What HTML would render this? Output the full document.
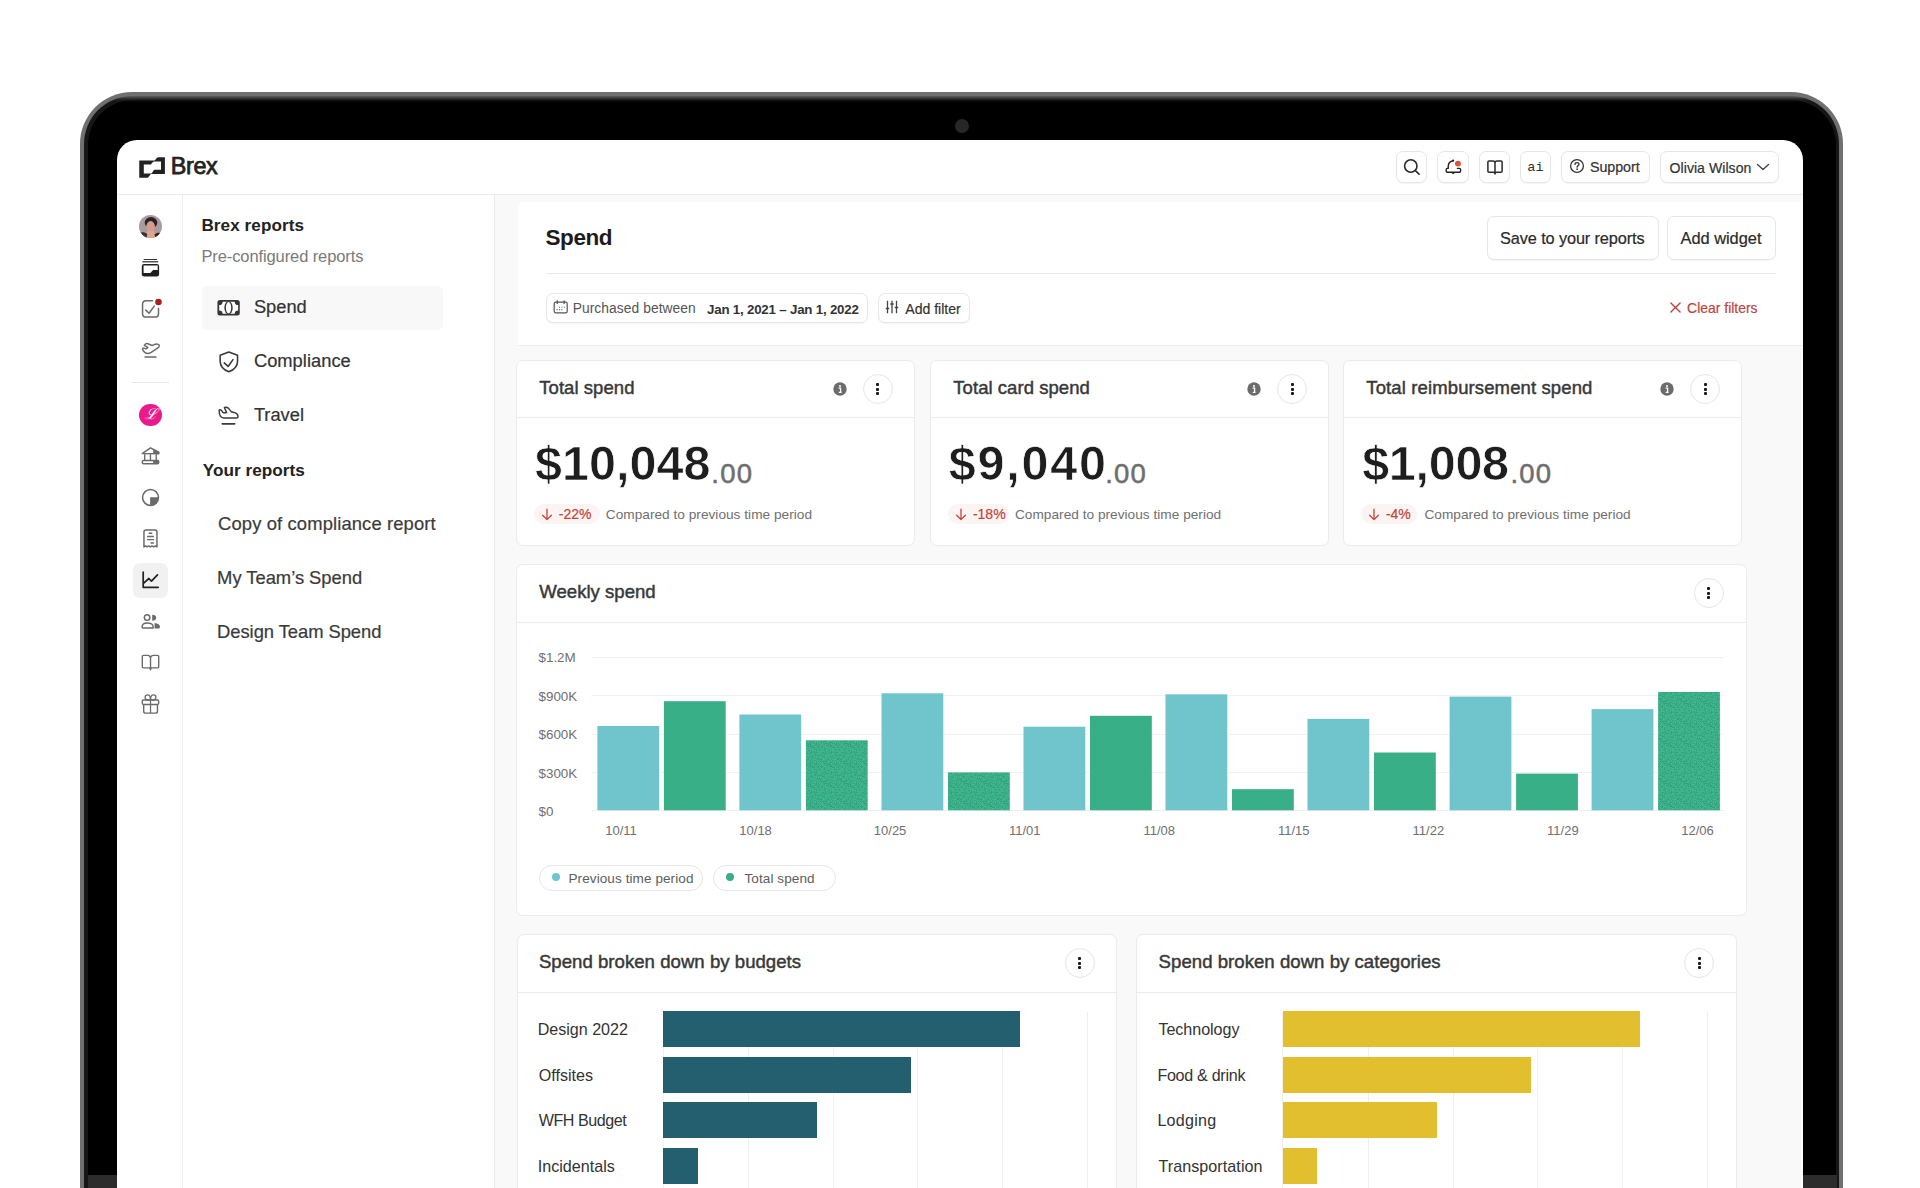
<!DOCTYPE html>
<html><head><meta charset="utf-8"><title>Brex – Spend report</title>
<style>
html,body{margin:0;padding:0;}
body{width:1920px;height:1188px;overflow:hidden;background:#fff;position:relative;font-family:"Liberation Sans",Arial,sans-serif;color:#333;}
.a{position:absolute;box-sizing:border-box;}
.t{position:absolute;line-height:1;white-space:nowrap;}
.m{-webkit-text-stroke:0.45px currentColor;letter-spacing:0.12px;}
.s{-webkit-text-stroke:0.2px currentColor;}
.btn{position:absolute;box-sizing:border-box;background:#fff;border:1px solid #e6e6e6;border-radius:7px;box-shadow:0 1px 1px rgba(0,0,0,0.04);}
.card{position:absolute;box-sizing:border-box;background:#fff;border:1px solid #ebebeb;border-radius:7px;}
.kb{position:absolute;box-sizing:border-box;width:30px;height:30px;border:1px solid #e6e6e6;border-radius:50%;background:#fff;}
.kb i{position:absolute;left:12.6px;width:3px;height:3px;border-radius:1px;background:#1a1a1a;}
svg{position:absolute;overflow:visible;}
</style></head><body>
<div class="a" style="left:80.0px;top:92.0px;width:1763.0px;height:1150.0px;background:#707070;border-radius:52px 52px 0 0;"></div>
<div class="a" style="left:84.0px;top:96.0px;width:1755.0px;height:1150.0px;background:linear-gradient(to bottom,#5e5e5e 0px,#2a2a2a 3px,#161616 5px,#161616 100%);border-radius:48px 48px 0 0;"></div>
<div class="a" style="left:87.5px;top:99.5px;width:1748.0px;height:1150.0px;background:linear-gradient(to bottom,#121212 0px,#000 2.5px,#000 100%);border-radius:45px 45px 0 0;"></div>
<div class="a" style="left:88.0px;top:1175.0px;width:1749.0px;height:20.0px;background:#2c2c2c;"></div>
<div class="a" style="left:954.5px;top:118.5px;width:14.0px;height:14.0px;background:#272727;border-radius:50%;"></div>
<div class="a" style="left:117.0px;top:139.5px;width:1685.5px;height:1100.0px;background:#fff;border-radius:20px 20px 0 0;"></div>
<div class="a" style="left:117.0px;top:194.0px;width:1685.5px;height:1.0px;background:#ebebeb;"></div>
<div class="a" style="left:182.0px;top:195.0px;width:1.0px;height:1000.0px;background:#ededed;"></div>
<div class="a" style="left:494.0px;top:195.0px;width:1.0px;height:1000.0px;background:#ebebeb;"></div>
<div class="a" style="left:495.0px;top:195.0px;width:1306.0px;height:1000.0px;background:#f9f9f9;"></div>
<svg style="left:139px;top:156.5px" width="26" height="21" viewBox="0 0 26 21"><path fill="#222" fill-rule="evenodd" d="M0.25,3.6 H15.2 C16.7,3.6 17.2,0.3 19.4,0.3 H25.9 V16.9 H12.3 C10.8,16.9 10.3,20.7 7.7,20.7 H0.25 Z M4.8,7.6 H11.4 C12.9,7.6 13.2,4.5 15.2,4.5 H22 V12.7 H15.6 C14.1,12.7 13.6,16.5 11.9,16.5 H4.8 Z"/></svg>
<div class="t " style="left:170.70px;top:154.8px;font-size:23.4px;color:#222;letter-spacing:-0.35px;-webkit-text-stroke:0.75px #222;">Brex</div>
<div class="btn" style="left:1396px;top:151px;width:31px;height:32px;"></div>
<div class="btn" style="left:1437px;top:151px;width:31.5px;height:32px;"></div>
<div class="btn" style="left:1478.5px;top:151px;width:31.5px;height:32px;"></div>
<div class="btn" style="left:1519.5px;top:151px;width:31.5px;height:32px;"></div>
<div class="btn" style="left:1561px;top:151px;width:89px;height:32px;"></div>
<div class="btn" style="left:1659.5px;top:151px;width:119px;height:32px;"></div>
<svg style="left:1402px;top:157px" width="20" height="20" viewBox="0 0 20 20"><circle cx="8.8" cy="9" r="6.2" fill="none" stroke="#2a2a2a" stroke-width="1.6"/><path d="M13.3 13.5 L17 17.2" stroke="#2a2a2a" stroke-width="1.7" stroke-linecap="round"/></svg>
<svg style="left:1438px;top:152px" width="30" height="30" viewBox="0 0 1188 1188"><path d="M600 345 C470 370 410 450 405 560 V650 H370 C340 650 325 670 325 700 V755 C325 785 345 800 375 800 H845 C875 800 895 785 895 755 V700 C895 670 880 650 850 650 H770" fill="none" stroke="#222" stroke-width="56" stroke-linejoin="round" stroke-linecap="round"/><circle cx="600" cy="340" r="42" fill="#222"/><path d="M535 815 A65 55 0 0 0 665 815 Z" fill="#222"/><circle cx="790" cy="460" r="118" fill="#d9573a"/></svg>
<svg style="left:1485px;top:157px" width="20" height="20" viewBox="0 0 20 20"><path d="M10 6 V17.2 M10 6 C10 4.6 9.3 3.9 8 3.9 H4 C3.2 3.9 2.9 4.3 2.9 5 V14.3 C2.9 15 3.3 15.3 4 15.3 H8.3 C9.3 15.3 10 15.8 10 17 C10 15.8 10.7 15.3 11.7 15.3 H16 C16.7 15.3 17.1 15 17.1 14.3 V5 C17.1 4.3 16.8 3.9 16 3.9 H12 C10.7 3.9 10 4.6 10 6" fill="none" stroke="#2a2a2a" stroke-width="1.5" stroke-linejoin="round"/></svg>
<div class="t " style="left:1527.30px;top:160.7px;font-size:13.6px;color:#333;font-family:'Liberation Mono',monospace;">ai</div>
<svg style="left:1569px;top:158.4px" width="16" height="16" viewBox="0 0 16 16"><circle cx="8" cy="8" r="6.4" fill="none" stroke="#333" stroke-width="1.3"/><path d="M6 6.4 C6 5.2 6.9 4.6 8 4.6 C9.1 4.6 10 5.3 10 6.3 C10 7.6 8.1 7.7 8.1 9.2" fill="none" stroke="#333" stroke-width="1.3" stroke-linecap="round"/><circle cx="8.1" cy="11.2" r="0.85" fill="#333"/></svg>
<div class="t s" style="left:1590.00px;top:160.3px;font-size:14.3px;color:#333;letter-spacing:-0.067px;">Support</div>
<div class="t s" style="left:1669.60px;top:160.5px;font-size:14.1px;color:#333;letter-spacing:0.024px;">Olivia Wilson</div>
<svg style="left:1756px;top:162px" width="14" height="10" viewBox="0 0 14 10"><path d="M1.5 2.5 L7 7.5 L12.5 2.5" fill="none" stroke="#444" stroke-width="1.4" stroke-linecap="round" stroke-linejoin="round"/></svg>
<svg style="left:139px;top:215px" width="23" height="23" viewBox="0 0 23 23"><defs><clipPath id="av"><circle cx="11.5" cy="11.5" r="11.5"/></clipPath></defs><g clip-path="url(#av)"><rect width="23" height="23" fill="#a99ba1"/><ellipse cx="12" cy="7.6" rx="6.3" ry="5.6" fill="#2a2326"/><ellipse cx="11.6" cy="11.6" rx="4.3" ry="5.6" fill="#d49c8c"/><path d="M8.5 16 H15 L18 23 H5.5 Z" fill="#dea58e"/><path d="M0 18 C3 16.5 6 17 8.2 19 L7.5 23 H0 Z" fill="#3a3032"/><path d="M23 18.5 C20 17 17.5 17.5 15.5 19.5 L16.5 23 H23 Z" fill="#2c2528"/></g></svg>
<svg style="left:136px;top:252px" width="30" height="30" viewBox="0 0 1188 1188"><path d="M320 295 H820" stroke="#333" stroke-width="40" stroke-linecap="round"/><path d="M270 390 H860" stroke="#555" stroke-width="60" stroke-linecap="round"/><rect x="230" y="480" width="685" height="495" rx="90" fill="#1e1e1e"/><path d="M300 530 H860 V715 H690 C640 715 620 820 560 830 H300 Z" fill="#fff"/></svg>
<svg style="left:136px;top:294px" width="30" height="30" viewBox="0 0 1188 1188"><path d="M655 270 H400 C310 270 260 320 260 410 V780 C260 870 310 915 400 915 H760 C850 915 890 870 890 780 V565" fill="none" stroke="#6a6a6a" stroke-width="60" stroke-linecap="round"/><path d="M385 640 L520 760 L720 480" fill="none" stroke="#6a6a6a" stroke-width="60" stroke-linecap="round" stroke-linejoin="round"/><circle cx="890" cy="320" r="130" fill="#a81e1f"/></svg>
<svg style="left:136px;top:336px" width="30" height="30" viewBox="0 0 1188 1188"><path d="M260 530 C300 620 380 690 470 690 C520 690 560 670 600 645 L880 460 C940 420 930 360 880 335 C830 310 770 315 720 340 L640 375 L470 305 C420 290 370 310 330 370 L470 450 L400 510 L310 480 C270 475 245 500 260 530 Z" fill="none" stroke="#6a6a6a" stroke-width="58" stroke-linejoin="round"/><path d="M360 828 H790" stroke="#6a6a6a" stroke-width="60" stroke-linecap="round"/></svg>
<div class="a" style="left:132.0px;top:382.0px;width:36.5px;height:1.0px;background:#e6e6e6;"></div>
<div class="a" style="left:138.8px;top:403.7px;width:22.8px;height:22.8px;border-radius:50%;background:#ea1a8c;"></div>
<div class="t" style="left:144.5px;top:406.5px;font-size:15px;color:#fff;font-family:'Liberation Serif',serif;font-style:italic;">&#x2112;</div>
<svg style="left:136px;top:441px" width="30" height="30" viewBox="0 0 1188 1188"><path d="M245 500 L575 275 L905 440 V505 Z" fill="none" stroke="#6a6a6a" stroke-width="58" stroke-linejoin="round"/><path d="M680 330 L905 440 V505 H680 Z" fill="#6a6a6a"/><path d="M345 520 V760 M572 520 V760 M800 520 V760" stroke="#6a6a6a" stroke-width="55"/><rect x="250" y="775" width="650" height="125" rx="50" fill="none" stroke="#6a6a6a" stroke-width="58"/><rect x="680" y="775" width="220" height="125" fill="#6a6a6a"/></svg>
<svg style="left:136px;top:483px" width="30" height="30" viewBox="0 0 1188 1188"><circle cx="575" cy="575" r="315" fill="none" stroke="#6a6a6a" stroke-width="60"/><path d="M560 560 H890 A330 330 0 0 1 560 890 Z" fill="#6a6a6a"/></svg>
<svg style="left:136px;top:524px" width="30" height="30" viewBox="0 0 1188 1188"><path d="M315 910 V320 C315 270 345 240 395 240 H750 C800 240 830 270 830 320 V910 L765 870 L700 910 L635 870 L570 910 L505 870 L440 910 L375 870 Z" fill="none" stroke="#6a6a6a" stroke-width="58" stroke-linejoin="round"/><path d="M520 365 H625 M460 495 H690 M460 620 H690 M595 750 H690" stroke="#6a6a6a" stroke-width="55" stroke-linecap="round"/></svg>
<div class="a" style="left:133.4px;top:562.7px;width:35.0px;height:35.0px;background:#f1f1f1;border-radius:7px;"></div>
<svg style="left:136px;top:565px" width="30" height="30" viewBox="0 0 1188 1188"><path d="M285 285 V885 H880" fill="none" stroke="#222" stroke-width="68" stroke-linecap="round" stroke-linejoin="round"/><path d="M305 720 L510 535 L612 635 L850 390" fill="none" stroke="#222" stroke-width="68" stroke-linecap="round" stroke-linejoin="round"/></svg>
<svg style="left:136px;top:607px" width="30" height="30" viewBox="0 0 1188 1188"><circle cx="440" cy="420" r="110" fill="none" stroke="#6a6a6a" stroke-width="58"/><path d="M640 310 C740 310 800 360 800 430 C800 500 740 545 640 545 Z" fill="#6a6a6a"/><path d="M240 790 C240 690 330 630 450 630 C570 630 680 690 680 790 V830 H280 C255 830 240 815 240 790 Z" fill="none" stroke="#6a6a6a" stroke-width="58" stroke-linejoin="round"/><path d="M735 630 C860 640 950 690 950 780 C950 830 920 850 880 850 H735 Z" fill="#6a6a6a"/></svg>
<svg style="left:136px;top:648px" width="30" height="30" viewBox="0 0 1188 1188"><path d="M575 390 C560 320 520 290 460 290 H295 C265 290 250 305 250 335 V745 C250 770 265 785 290 785 H540 L575 860 L610 785 H860 C885 785 900 770 900 745 V335 C900 305 885 290 855 290 H690 C630 290 590 320 575 390 V780" fill="none" stroke="#6a6a6a" stroke-width="55" stroke-linejoin="round"/></svg>
<svg style="left:136px;top:689px" width="30" height="30" viewBox="0 0 1188 1188"><rect x="248" y="438" width="650" height="175" rx="45" fill="none" stroke="#6a6a6a" stroke-width="55"/><path d="M305 615 V880 C305 930 335 955 385 955 H770 C820 955 850 930 850 880 V615" fill="none" stroke="#6a6a6a" stroke-width="55"/><path d="M575 330 V955" stroke="#6a6a6a" stroke-width="50"/><path d="M575 430 C575 300 540 235 460 235 C400 235 360 280 360 335 C360 400 420 430 480 430 Z M575 430 C575 300 610 235 690 235 C750 235 790 280 790 335 C790 400 730 430 670 430 Z" fill="none" stroke="#6a6a6a" stroke-width="50"/></svg>
<div class="t " style="left:201.40px;top:216.6px;font-size:17.1px;font-weight:700;color:#222;letter-spacing:0.087px;">Brex reports</div>
<div class="t " style="left:201.40px;top:247.6px;font-size:16.5px;color:#7a7a7a;letter-spacing:-0.101px;">Pre-configured reports</div>
<div class="a" style="left:202.4px;top:285.9px;width:240.6px;height:44.6px;background:#f8f8f8;border-radius:5px;"></div>
<svg style="left:213px;top:293px" width="30" height="30" viewBox="0 0 1188 1188"><rect x="175" y="280" width="885" height="610" rx="100" fill="#363636"/><path d="M380 345 H860 A135 135 0 0 0 995 480 V690 A135 135 0 0 0 860 825 H380 A135 135 0 0 0 245 690 V480 A135 135 0 0 0 380 345 Z" fill="#fff"/><ellipse cx="615" cy="585" rx="165" ry="262" fill="#363636"/><ellipse cx="615" cy="585" rx="105" ry="228" fill="#fff"/></svg>
<div class="t s" style="left:253.90px;top:298.2px;font-size:18.3px;color:#333;letter-spacing:0.001px;">Spend</div>
<svg style="left:213px;top:347px" width="30" height="30" viewBox="0 0 1188 1188"><path d="M627 200 L972 330 V560 C972 770 830 900 627 980 C424 900 283 770 283 560 V330 Z" fill="none" stroke="#3a3a3a" stroke-width="62" stroke-linejoin="round"/><path d="M445 630 L600 770 L790 500" fill="none" stroke="#3a3a3a" stroke-width="62" stroke-linecap="round" stroke-linejoin="round"/></svg>
<div class="t s" style="left:253.90px;top:352.2px;font-size:18.3px;color:#333;letter-spacing:0.037px;">Compliance</div>
<svg style="left:213px;top:400px" width="30" height="30" viewBox="0 0 1188 1188"><path d="M245 440 C230 380 300 370 340 420 L390 490 C420 520 480 500 540 500 L450 300 C520 280 600 300 650 370 L720 460 C760 490 800 480 860 500 C950 530 990 600 990 660 C990 700 960 710 930 710 H430 C350 710 290 650 260 560 Z" fill="none" stroke="#3a3a3a" stroke-width="58" stroke-linejoin="round"/><path d="M365 945 H860" stroke="#3a3a3a" stroke-width="62" stroke-linecap="round"/></svg>
<div class="t s" style="left:253.90px;top:406.1px;font-size:18.3px;color:#333;letter-spacing:-0.010px;">Travel</div>
<div class="t " style="left:202.80px;top:461.6px;font-size:17.2px;font-weight:700;color:#222;letter-spacing:0.018px;">Your reports</div>
<div class="t s" style="left:218.10px;top:514.9px;font-size:18.4px;color:#3a3a3a;letter-spacing:0.119px;">Copy of compliance report</div>
<div class="t s" style="left:217.10px;top:568.9px;font-size:18.4px;color:#3a3a3a;letter-spacing:-0.029px;">My Team’s Spend</div>
<div class="t s" style="left:217.10px;top:623.4px;font-size:18.4px;color:#3a3a3a;letter-spacing:-0.062px;">Design Team Spend</div>
<div class="a" style="left:518.0px;top:202.0px;width:1284.5px;height:143.0px;background:#fff;border-radius:5px 0 0 0;"></div>
<div class="a" style="left:518.0px;top:345.0px;width:1284.5px;height:1.0px;background:#ececec;"></div>
<div class="t " style="left:545.60px;top:226.8px;font-size:22.5px;font-weight:700;color:#1c1c1c;letter-spacing:-0.477px;">Spend</div>
<div class="a" style="left:545.5px;top:273.0px;width:1230.5px;height:1.0px;background:#e9e9e9;"></div>
<div class="btn" style="left:1486.5px;top:215.5px;width:172px;height:44px;"></div>
<div class="t s" style="left:1500.10px;top:230.0px;font-size:16.3px;color:#2a2a2a;letter-spacing:-0.114px;">Save to your reports</div>
<div class="btn" style="left:1667px;top:215.5px;width:108.5px;height:44px;"></div>
<div class="t s" style="left:1680.50px;top:229.9px;font-size:16.4px;color:#2a2a2a;letter-spacing:-0.016px;">Add widget</div>
<div class="btn" style="left:545.5px;top:292.6px;width:322.5px;height:30px;"></div>
<svg style="left:553px;top:300px" width="16" height="14" viewBox="0 0 16 14"><rect x="1.2" y="2.2" width="13" height="10.6" rx="1.6" fill="none" stroke="#555" stroke-width="1.2"/><path d="M4.3 0.8 V3.4 M11.1 0.8 V3.4" stroke="#555" stroke-width="1.3" stroke-linecap="round"/><path d="M6 7.2 H7 M8.4 7.2 H9.4 M10.8 7.2 H11.8 M3.6 9.6 H4.6 M6 9.6 H7 M8.4 9.6 H9.4" stroke="#666" stroke-width="1.1"/></svg>
<div class="t " style="left:572.70px;top:302.1px;font-size:13.8px;color:#555;letter-spacing:0.070px;">Purchased between</div>
<div class="t " style="left:707.00px;top:302.5px;font-size:13.3px;font-weight:700;color:#333;letter-spacing:-0.201px;">Jan 1, 2021 – Jan 1, 2022</div>
<div class="btn" style="left:878px;top:292.6px;width:91.7px;height:30px;"></div>
<svg style="left:885px;top:300px" width="14" height="14" viewBox="0 0 14 14"><path d="M2.5 0.8 V13.2 M7 0.8 V13.2 M11.5 0.8 V13.2" stroke="#444" stroke-width="1.3"/><path d="M0.8 8.5 H4.2 M5.3 4 H8.7 M9.8 7.5 H13.2" stroke="#444" stroke-width="1.3"/></svg>
<div class="t s" style="left:905.30px;top:301.9px;font-size:14.1px;color:#333;letter-spacing:-0.025px;">Add filter</div>
<svg style="left:1670px;top:302.4px" width="11" height="11" viewBox="0 0 11 11"><path d="M0.9 0.9 L10.1 10.1 M10.1 0.9 L0.9 10.1" stroke="#c0443b" stroke-width="1.4" stroke-linecap="round"/></svg>
<div class="t s" style="left:1687.10px;top:301.6px;font-size:13.9px;color:#c0443b;letter-spacing:0.017px;">Clear filters</div>
<div class="card" style="left:516.1px;top:360.1px;width:399.3px;height:185.7px;"></div>
<div class="a" style="left:516.1px;top:416.7px;width:399.3px;height:1.0px;background:#ececec;"></div>
<div class="t m" style="left:539.23px;top:379.1px;font-size:18.5px;color:#383838;letter-spacing:0.062px;">Total spend</div>
<svg style="left:832.8px;top:382.2px" width="14" height="14" viewBox="0 0 14 14"><circle cx="7" cy="7" r="6.7" fill="#6b6b6b"/><circle cx="7" cy="4.1" r="1" fill="#fff"/><path d="M5.6 6.2 H7.6 V10.3 M5.7 10.3 H8.6" fill="none" stroke="#fff" stroke-width="1.3"/></svg>
<div class="kb" style="left:862.9px;top:374.2px;"><i style="top:7.9px"></i><i style="top:12.5px"></i><i style="top:17.1px"></i></div>
<div class="t" style="left:534.9px;top:439.1px;font-size:48.5px;font-weight:700;color:#1e1e1e;-webkit-text-stroke:0.7px #fff;letter-spacing:0.03px;">$10,048</div>
<div class="t" style="left:711.3px;top:460.1px;font-size:27.5px;color:#6e6e6e;letter-spacing:1.2px;-webkit-text-stroke:0.5px #6e6e6e;">.00</div>
<div class="a" style="left:533.7px;top:504.0px;width:66.5px;height:20.2px;background:#fbf4f3;border-radius:10px;"></div>
<svg style="left:540.8px;top:507.6px" width="12" height="13" viewBox="0 0 12 13"><path d="M6 1.2 V11.6 M1.6 7.2 L6 11.6 L10.4 7.2" fill="none" stroke="#c2433a" stroke-width="1.3" stroke-linecap="round" stroke-linejoin="round"/></svg>
<div class="t s" style="left:558.80px;top:507.3px;font-size:14px;color:#c2433a;">-22%</div>
<div class="t " style="left:605.80px;top:507.9px;font-size:13.65px;color:#707070;letter-spacing:0.023px;">Compared to previous time period</div>
<div class="card" style="left:930.2px;top:360.1px;width:399.3px;height:185.7px;"></div>
<div class="a" style="left:930.2px;top:416.7px;width:399.3px;height:1.0px;background:#ececec;"></div>
<div class="t m" style="left:953.33px;top:379.1px;font-size:18.5px;color:#383838;letter-spacing:0.046px;">Total card spend</div>
<svg style="left:1246.9px;top:382.2px" width="14" height="14" viewBox="0 0 14 14"><circle cx="7" cy="7" r="6.7" fill="#6b6b6b"/><circle cx="7" cy="4.1" r="1" fill="#fff"/><path d="M5.6 6.2 H7.6 V10.3 M5.7 10.3 H8.6" fill="none" stroke="#fff" stroke-width="1.3"/></svg>
<div class="kb" style="left:1277.0px;top:374.2px;"><i style="top:7.9px"></i><i style="top:12.5px"></i><i style="top:17.1px"></i></div>
<div class="t" style="left:948.8px;top:439.1px;font-size:48.5px;font-weight:700;color:#1e1e1e;-webkit-text-stroke:0.7px #fff;letter-spacing:1.75px;">$9,040</div>
<div class="t" style="left:1105.2px;top:460.1px;font-size:27.5px;color:#6e6e6e;letter-spacing:1.2px;-webkit-text-stroke:0.5px #6e6e6e;">.00</div>
<div class="a" style="left:947.8px;top:504.0px;width:61.1px;height:20.2px;background:#fbf4f3;border-radius:10px;"></div>
<svg style="left:954.9px;top:507.6px" width="12" height="13" viewBox="0 0 12 13"><path d="M6 1.2 V11.6 M1.6 7.2 L6 11.6 L10.4 7.2" fill="none" stroke="#c2433a" stroke-width="1.3" stroke-linecap="round" stroke-linejoin="round"/></svg>
<div class="t s" style="left:972.90px;top:507.3px;font-size:14px;color:#c2433a;">-18%</div>
<div class="t " style="left:1015.00px;top:507.9px;font-size:13.65px;color:#707070;letter-spacing:0.023px;">Compared to previous time period</div>
<div class="card" style="left:1343.2px;top:360.1px;width:399.3px;height:185.7px;"></div>
<div class="a" style="left:1343.2px;top:416.7px;width:399.3px;height:1.0px;background:#ececec;"></div>
<div class="t m" style="left:1366.33px;top:379.1px;font-size:18.5px;color:#383838;letter-spacing:0.121px;">Total reimbursement spend</div>
<svg style="left:1659.9px;top:382.2px" width="14" height="14" viewBox="0 0 14 14"><circle cx="7" cy="7" r="6.7" fill="#6b6b6b"/><circle cx="7" cy="4.1" r="1" fill="#fff"/><path d="M5.6 6.2 H7.6 V10.3 M5.7 10.3 H8.6" fill="none" stroke="#fff" stroke-width="1.3"/></svg>
<div class="kb" style="left:1690.0px;top:374.2px;"><i style="top:7.9px"></i><i style="top:12.5px"></i><i style="top:17.1px"></i></div>
<div class="t" style="left:1362.2px;top:439.1px;font-size:48.5px;font-weight:700;color:#1e1e1e;-webkit-text-stroke:0.7px #fff;letter-spacing:-0.30px;">$1,008</div>
<div class="t" style="left:1510.5px;top:460.1px;font-size:27.5px;color:#6e6e6e;letter-spacing:1.2px;-webkit-text-stroke:0.5px #6e6e6e;">.00</div>
<div class="a" style="left:1360.8px;top:504.0px;width:56.7px;height:20.2px;background:#fbf4f3;border-radius:10px;"></div>
<svg style="left:1367.9px;top:507.6px" width="12" height="13" viewBox="0 0 12 13"><path d="M6 1.2 V11.6 M1.6 7.2 L6 11.6 L10.4 7.2" fill="none" stroke="#c2433a" stroke-width="1.3" stroke-linecap="round" stroke-linejoin="round"/></svg>
<div class="t s" style="left:1385.90px;top:507.3px;font-size:14px;color:#c2433a;">-4%</div>
<div class="t " style="left:1424.50px;top:507.9px;font-size:13.65px;color:#707070;letter-spacing:0.023px;">Compared to previous time period</div>
<div class="card" style="left:516px;top:564px;width:1230.5px;height:351.6px;"></div>
<div class="a" style="left:516.0px;top:622.0px;width:1230.5px;height:1.0px;background:#ececec;"></div>
<div class="t m" style="left:539.23px;top:583.1px;font-size:18.6px;color:#383838;letter-spacing:0.004px;">Weekly spend</div>
<div class="kb" style="left:1693.8px;top:578.0px;"><i style="top:7.9px"></i><i style="top:12.5px"></i><i style="top:17.1px"></i></div>
<div class="a" style="left:592.3px;top:656.8px;width:1131.7px;height:1.0px;background:#f2f2f2;"></div>
<div class="a" style="left:592.3px;top:695.1px;width:1131.7px;height:1.0px;background:#f2f2f2;"></div>
<div class="a" style="left:592.3px;top:733.5px;width:1131.7px;height:1.0px;background:#f2f2f2;"></div>
<div class="a" style="left:592.3px;top:771.8px;width:1131.7px;height:1.0px;background:#f2f2f2;"></div>
<div class="a" style="left:592.3px;top:810.0px;width:1131.7px;height:1.0px;background:#eeeeee;"></div>
<div class="t " style="left:538.50px;top:651.4px;font-size:13.4px;color:#707070;">$1.2M</div>
<div class="t " style="left:538.50px;top:689.9px;font-size:13.4px;color:#707070;">$900K</div>
<div class="t " style="left:538.50px;top:728.3px;font-size:13.4px;color:#707070;">$600K</div>
<div class="t " style="left:538.50px;top:766.8px;font-size:13.4px;color:#707070;">$300K</div>
<div class="t " style="left:538.50px;top:805.0px;font-size:13.4px;color:#707070;">$0</div>
<div class="t" style="left:591.0px;width:60px;text-align:center;top:824.3px;font-size:13px;color:#707070;">10/11</div>
<div class="t" style="left:725.6px;width:60px;text-align:center;top:824.3px;font-size:13px;color:#707070;">10/18</div>
<div class="t" style="left:860.1px;width:60px;text-align:center;top:824.3px;font-size:13px;color:#707070;">10/25</div>
<div class="t" style="left:994.7px;width:60px;text-align:center;top:824.3px;font-size:13px;color:#707070;">11/01</div>
<div class="t" style="left:1129.2px;width:60px;text-align:center;top:824.3px;font-size:13px;color:#707070;">11/08</div>
<div class="t" style="left:1263.8px;width:60px;text-align:center;top:824.3px;font-size:13px;color:#707070;">11/15</div>
<div class="t" style="left:1398.4px;width:60px;text-align:center;top:824.3px;font-size:13px;color:#707070;">11/22</div>
<div class="t" style="left:1532.9px;width:60px;text-align:center;top:824.3px;font-size:13px;color:#707070;">11/29</div>
<div class="t" style="left:1667.5px;width:60px;text-align:center;top:824.3px;font-size:13px;color:#707070;">12/06</div>
<svg style="left:0;top:0" width="1920" height="1188" viewBox="0 0 1920 1188"><defs><pattern id="nz" width="20" height="20" patternUnits="userSpaceOnUse"><rect width="20" height="20" fill="#3bb189"/><rect x="6" y="0" width="1" height="1" fill="#32a17c"/><rect x="10" y="0" width="1" height="1" fill="#32a17c"/><rect x="11" y="0" width="1" height="1" fill="#45b993"/><rect x="12" y="0" width="1" height="1" fill="#32a17c"/><rect x="15" y="0" width="1" height="1" fill="#32a17c"/><rect x="0" y="1" width="1" height="1" fill="#32a17c"/><rect x="1" y="1" width="1" height="1" fill="#32a17c"/><rect x="3" y="1" width="1" height="1" fill="#32a17c"/><rect x="4" y="1" width="1" height="1" fill="#32a17c"/><rect x="5" y="1" width="1" height="1" fill="#32a17c"/><rect x="6" y="1" width="1" height="1" fill="#32a17c"/><rect x="8" y="1" width="1" height="1" fill="#45b993"/><rect x="15" y="1" width="1" height="1" fill="#45b993"/><rect x="0" y="2" width="1" height="1" fill="#45b993"/><rect x="1" y="2" width="1" height="1" fill="#32a17c"/><rect x="2" y="2" width="1" height="1" fill="#45b993"/><rect x="3" y="2" width="1" height="1" fill="#32a17c"/><rect x="5" y="2" width="1" height="1" fill="#45b993"/><rect x="7" y="2" width="1" height="1" fill="#45b993"/><rect x="10" y="2" width="1" height="1" fill="#32a17c"/><rect x="11" y="2" width="1" height="1" fill="#32a17c"/><rect x="15" y="2" width="1" height="1" fill="#45b993"/><rect x="16" y="2" width="1" height="1" fill="#32a17c"/><rect x="19" y="2" width="1" height="1" fill="#45b993"/><rect x="0" y="3" width="1" height="1" fill="#32a17c"/><rect x="1" y="3" width="1" height="1" fill="#45b993"/><rect x="4" y="3" width="1" height="1" fill="#32a17c"/><rect x="5" y="3" width="1" height="1" fill="#32a17c"/><rect x="6" y="3" width="1" height="1" fill="#32a17c"/><rect x="7" y="3" width="1" height="1" fill="#32a17c"/><rect x="9" y="3" width="1" height="1" fill="#32a17c"/><rect x="11" y="3" width="1" height="1" fill="#45b993"/><rect x="12" y="3" width="1" height="1" fill="#32a17c"/><rect x="14" y="3" width="1" height="1" fill="#32a17c"/><rect x="16" y="3" width="1" height="1" fill="#32a17c"/><rect x="17" y="3" width="1" height="1" fill="#45b993"/><rect x="18" y="3" width="1" height="1" fill="#32a17c"/><rect x="19" y="3" width="1" height="1" fill="#45b993"/><rect x="2" y="4" width="1" height="1" fill="#45b993"/><rect x="4" y="4" width="1" height="1" fill="#32a17c"/><rect x="5" y="4" width="1" height="1" fill="#45b993"/><rect x="8" y="4" width="1" height="1" fill="#32a17c"/><rect x="10" y="4" width="1" height="1" fill="#32a17c"/><rect x="11" y="4" width="1" height="1" fill="#45b993"/><rect x="13" y="4" width="1" height="1" fill="#45b993"/><rect x="14" y="4" width="1" height="1" fill="#45b993"/><rect x="15" y="4" width="1" height="1" fill="#32a17c"/><rect x="16" y="4" width="1" height="1" fill="#32a17c"/><rect x="18" y="4" width="1" height="1" fill="#32a17c"/><rect x="0" y="5" width="1" height="1" fill="#45b993"/><rect x="6" y="5" width="1" height="1" fill="#32a17c"/><rect x="7" y="5" width="1" height="1" fill="#32a17c"/><rect x="10" y="5" width="1" height="1" fill="#32a17c"/><rect x="11" y="5" width="1" height="1" fill="#32a17c"/><rect x="14" y="5" width="1" height="1" fill="#32a17c"/><rect x="18" y="5" width="1" height="1" fill="#45b993"/><rect x="19" y="5" width="1" height="1" fill="#32a17c"/><rect x="0" y="6" width="1" height="1" fill="#32a17c"/><rect x="2" y="6" width="1" height="1" fill="#32a17c"/><rect x="4" y="6" width="1" height="1" fill="#45b993"/><rect x="7" y="6" width="1" height="1" fill="#45b993"/><rect x="8" y="6" width="1" height="1" fill="#32a17c"/><rect x="10" y="6" width="1" height="1" fill="#32a17c"/><rect x="11" y="6" width="1" height="1" fill="#32a17c"/><rect x="15" y="6" width="1" height="1" fill="#45b993"/><rect x="17" y="6" width="1" height="1" fill="#32a17c"/><rect x="18" y="6" width="1" height="1" fill="#32a17c"/><rect x="19" y="6" width="1" height="1" fill="#45b993"/><rect x="0" y="7" width="1" height="1" fill="#45b993"/><rect x="1" y="7" width="1" height="1" fill="#32a17c"/><rect x="2" y="7" width="1" height="1" fill="#32a17c"/><rect x="3" y="7" width="1" height="1" fill="#45b993"/><rect x="5" y="7" width="1" height="1" fill="#32a17c"/><rect x="6" y="7" width="1" height="1" fill="#45b993"/><rect x="12" y="7" width="1" height="1" fill="#32a17c"/><rect x="13" y="7" width="1" height="1" fill="#32a17c"/><rect x="14" y="7" width="1" height="1" fill="#32a17c"/><rect x="18" y="7" width="1" height="1" fill="#32a17c"/><rect x="2" y="8" width="1" height="1" fill="#45b993"/><rect x="4" y="8" width="1" height="1" fill="#32a17c"/><rect x="12" y="8" width="1" height="1" fill="#45b993"/><rect x="16" y="8" width="1" height="1" fill="#45b993"/><rect x="1" y="9" width="1" height="1" fill="#45b993"/><rect x="4" y="9" width="1" height="1" fill="#32a17c"/><rect x="9" y="9" width="1" height="1" fill="#45b993"/><rect x="12" y="9" width="1" height="1" fill="#45b993"/><rect x="14" y="9" width="1" height="1" fill="#32a17c"/><rect x="16" y="9" width="1" height="1" fill="#32a17c"/><rect x="19" y="9" width="1" height="1" fill="#32a17c"/><rect x="4" y="10" width="1" height="1" fill="#45b993"/><rect x="5" y="10" width="1" height="1" fill="#32a17c"/><rect x="6" y="10" width="1" height="1" fill="#45b993"/><rect x="8" y="10" width="1" height="1" fill="#32a17c"/><rect x="9" y="10" width="1" height="1" fill="#32a17c"/><rect x="12" y="10" width="1" height="1" fill="#45b993"/><rect x="14" y="10" width="1" height="1" fill="#45b993"/><rect x="16" y="10" width="1" height="1" fill="#32a17c"/><rect x="17" y="10" width="1" height="1" fill="#45b993"/><rect x="1" y="11" width="1" height="1" fill="#45b993"/><rect x="3" y="11" width="1" height="1" fill="#45b993"/><rect x="4" y="11" width="1" height="1" fill="#32a17c"/><rect x="10" y="11" width="1" height="1" fill="#45b993"/><rect x="11" y="11" width="1" height="1" fill="#32a17c"/><rect x="13" y="11" width="1" height="1" fill="#45b993"/><rect x="14" y="11" width="1" height="1" fill="#32a17c"/><rect x="15" y="11" width="1" height="1" fill="#45b993"/><rect x="18" y="11" width="1" height="1" fill="#45b993"/><rect x="2" y="12" width="1" height="1" fill="#32a17c"/><rect x="3" y="12" width="1" height="1" fill="#32a17c"/><rect x="5" y="12" width="1" height="1" fill="#32a17c"/><rect x="8" y="12" width="1" height="1" fill="#45b993"/><rect x="10" y="12" width="1" height="1" fill="#32a17c"/><rect x="11" y="12" width="1" height="1" fill="#32a17c"/><rect x="13" y="12" width="1" height="1" fill="#32a17c"/><rect x="15" y="12" width="1" height="1" fill="#32a17c"/><rect x="16" y="12" width="1" height="1" fill="#32a17c"/><rect x="17" y="12" width="1" height="1" fill="#32a17c"/><rect x="19" y="12" width="1" height="1" fill="#45b993"/><rect x="5" y="13" width="1" height="1" fill="#32a17c"/><rect x="7" y="13" width="1" height="1" fill="#32a17c"/><rect x="8" y="13" width="1" height="1" fill="#32a17c"/><rect x="11" y="13" width="1" height="1" fill="#32a17c"/><rect x="12" y="13" width="1" height="1" fill="#45b993"/><rect x="13" y="13" width="1" height="1" fill="#45b993"/><rect x="18" y="13" width="1" height="1" fill="#45b993"/><rect x="1" y="14" width="1" height="1" fill="#32a17c"/><rect x="4" y="14" width="1" height="1" fill="#32a17c"/><rect x="8" y="14" width="1" height="1" fill="#45b993"/><rect x="15" y="14" width="1" height="1" fill="#32a17c"/><rect x="0" y="15" width="1" height="1" fill="#32a17c"/><rect x="6" y="15" width="1" height="1" fill="#45b993"/><rect x="9" y="15" width="1" height="1" fill="#45b993"/><rect x="10" y="15" width="1" height="1" fill="#32a17c"/><rect x="11" y="15" width="1" height="1" fill="#45b993"/><rect x="15" y="15" width="1" height="1" fill="#32a17c"/><rect x="17" y="15" width="1" height="1" fill="#32a17c"/><rect x="19" y="15" width="1" height="1" fill="#32a17c"/><rect x="0" y="16" width="1" height="1" fill="#45b993"/><rect x="2" y="16" width="1" height="1" fill="#32a17c"/><rect x="3" y="16" width="1" height="1" fill="#32a17c"/><rect x="11" y="16" width="1" height="1" fill="#32a17c"/><rect x="12" y="16" width="1" height="1" fill="#32a17c"/><rect x="14" y="16" width="1" height="1" fill="#45b993"/><rect x="0" y="17" width="1" height="1" fill="#45b993"/><rect x="1" y="17" width="1" height="1" fill="#45b993"/><rect x="4" y="17" width="1" height="1" fill="#32a17c"/><rect x="9" y="17" width="1" height="1" fill="#32a17c"/><rect x="13" y="17" width="1" height="1" fill="#32a17c"/><rect x="16" y="17" width="1" height="1" fill="#45b993"/><rect x="1" y="18" width="1" height="1" fill="#32a17c"/><rect x="3" y="18" width="1" height="1" fill="#45b993"/><rect x="6" y="18" width="1" height="1" fill="#45b993"/><rect x="8" y="18" width="1" height="1" fill="#32a17c"/><rect x="9" y="18" width="1" height="1" fill="#45b993"/><rect x="13" y="18" width="1" height="1" fill="#45b993"/><rect x="14" y="18" width="1" height="1" fill="#32a17c"/><rect x="17" y="18" width="1" height="1" fill="#32a17c"/><rect x="19" y="18" width="1" height="1" fill="#32a17c"/><rect x="0" y="19" width="1" height="1" fill="#32a17c"/><rect x="1" y="19" width="1" height="1" fill="#32a17c"/><rect x="3" y="19" width="1" height="1" fill="#45b993"/><rect x="4" y="19" width="1" height="1" fill="#45b993"/><rect x="6" y="19" width="1" height="1" fill="#32a17c"/><rect x="8" y="19" width="1" height="1" fill="#32a17c"/><rect x="10" y="19" width="1" height="1" fill="#45b993"/><rect x="11" y="19" width="1" height="1" fill="#32a17c"/><rect x="13" y="19" width="1" height="1" fill="#45b993"/><rect x="14" y="19" width="1" height="1" fill="#45b993"/><rect x="15" y="19" width="1" height="1" fill="#45b993"/><rect x="17" y="19" width="1" height="1" fill="#32a17c"/><rect x="18" y="19" width="1" height="1" fill="#32a17c"/></pattern></defs><rect x="597.4" y="726" width="61.8" height="84.3" fill="#70c5cc"/><rect x="663.9" y="701.2" width="61.8" height="109.1" fill="#39af87"/><rect x="739.4" y="714.5" width="61.8" height="95.8" fill="#70c5cc"/><rect x="805.9" y="740.3" width="61.8" height="70.0" fill="url(#nz)"/><rect x="881.5" y="693.3" width="61.8" height="117.0" fill="#70c5cc"/><rect x="948.0" y="772.4" width="61.8" height="37.9" fill="url(#nz)"/><rect x="1023.5" y="726.7" width="61.8" height="83.6" fill="#70c5cc"/><rect x="1090.0" y="715.8" width="61.8" height="94.5" fill="#39af87"/><rect x="1165.5" y="694.3" width="61.8" height="116.0" fill="#70c5cc"/><rect x="1232.0" y="789.2" width="61.8" height="21.1" fill="#39af87"/><rect x="1307.5" y="718.9" width="61.8" height="91.4" fill="#70c5cc"/><rect x="1374.0" y="752.5" width="61.8" height="57.8" fill="#39af87"/><rect x="1449.6" y="696.6" width="61.8" height="113.7" fill="#70c5cc"/><rect x="1516.1" y="773.6" width="61.8" height="36.7" fill="#39af87"/><rect x="1591.6" y="709.1" width="61.8" height="101.2" fill="#70c5cc"/><rect x="1658.1" y="692" width="61.8" height="118.3" fill="url(#nz)"/></svg>
<div class="a" style="left:539.0px;top:864.5px;width:163.6px;height:26.7px;border:1px solid #e6e6e6;border-radius:14px;background:#fff;"></div>
<div class="a" style="left:552.0px;top:873.0px;width:8.0px;height:8.0px;background:#70c5cc;border-radius:50%;"></div>
<div class="t " style="left:568.50px;top:871.9px;font-size:13.55px;color:#5e5e5e;letter-spacing:0.076px;">Previous time period</div>
<div class="a" style="left:712.6px;top:864.5px;width:123.4px;height:26.7px;border:1px solid #e6e6e6;border-radius:14px;background:#fff;"></div>
<div class="a" style="left:725.5px;top:873.0px;width:8.0px;height:8.0px;background:#39af87;border-radius:50%;"></div>
<div class="t " style="left:744.40px;top:871.9px;font-size:13.55px;color:#5e5e5e;letter-spacing:0.095px;">Total spend</div>
<div class="card" style="left:516.7px;top:934px;width:600.6px;height:300px;"></div>
<div class="a" style="left:516.7px;top:992.0px;width:600.6px;height:1.0px;background:#ececec;"></div>
<div class="t m" style="left:538.93px;top:953.3px;font-size:18.6px;color:#383838;letter-spacing:0.023px;">Spend broken down by budgets</div>
<div class="kb" style="left:1064.7px;top:948.0px;"><i style="top:7.9px"></i><i style="top:12.5px"></i><i style="top:17.1px"></i></div>
<div class="a" style="left:662.5px;top:1012.0px;width:1.0px;height:200.0px;background:#efefef;"></div>
<div class="a" style="left:748.2px;top:1012.0px;width:1.0px;height:200.0px;background:#efefef;"></div>
<div class="a" style="left:832.9px;top:1012.0px;width:1.0px;height:200.0px;background:#efefef;"></div>
<div class="a" style="left:917.2px;top:1012.0px;width:1.0px;height:200.0px;background:#efefef;"></div>
<div class="a" style="left:1001.5px;top:1012.0px;width:1.0px;height:200.0px;background:#efefef;"></div>
<div class="a" style="left:1086.5px;top:1012.0px;width:1.0px;height:200.0px;background:#efefef;"></div>
<div class="a" style="left:663.0px;top:1011.3px;width:356.9px;height:36.0px;background:#245f6f;"></div>
<div class="t " style="left:537.70px;top:1021.4px;font-size:16.1px;color:#333;letter-spacing:-0.012px;">Design 2022</div>
<div class="a" style="left:663.0px;top:1056.7px;width:248.4px;height:36.0px;background:#245f6f;"></div>
<div class="t " style="left:538.70px;top:1066.8px;font-size:16.1px;color:#333;letter-spacing:0.012px;">Offsites</div>
<div class="a" style="left:663.0px;top:1102.1px;width:153.8px;height:36.0px;background:#245f6f;"></div>
<div class="t " style="left:538.70px;top:1112.2px;font-size:16.1px;color:#333;letter-spacing:-0.450px;">WFH Budget</div>
<div class="a" style="left:663.0px;top:1147.5px;width:34.5px;height:36.0px;background:#245f6f;"></div>
<div class="t " style="left:537.70px;top:1157.6px;font-size:16.1px;color:#333;letter-spacing:0.021px;">Incidentals</div>
<div class="card" style="left:1136.4px;top:934px;width:601.1px;height:300px;"></div>
<div class="a" style="left:1136.4px;top:992.0px;width:601.1px;height:1.0px;background:#ececec;"></div>
<div class="t m" style="left:1158.62px;top:953.3px;font-size:18.6px;color:#383838;letter-spacing:0.026px;">Spend broken down by categories</div>
<div class="kb" style="left:1684.2px;top:948.0px;"><i style="top:7.9px"></i><i style="top:12.5px"></i><i style="top:17.1px"></i></div>
<div class="a" style="left:1282.3px;top:1012.0px;width:1.0px;height:200.0px;background:#efefef;"></div>
<div class="a" style="left:1367.5px;top:1012.0px;width:1.0px;height:200.0px;background:#efefef;"></div>
<div class="a" style="left:1452.5px;top:1012.0px;width:1.0px;height:200.0px;background:#efefef;"></div>
<div class="a" style="left:1537.0px;top:1012.0px;width:1.0px;height:200.0px;background:#efefef;"></div>
<div class="a" style="left:1621.8px;top:1012.0px;width:1.0px;height:200.0px;background:#efefef;"></div>
<div class="a" style="left:1706.6px;top:1012.0px;width:1.0px;height:200.0px;background:#efefef;"></div>
<div class="a" style="left:1282.8px;top:1011.3px;width:356.8px;height:36.0px;background:#e2bf2f;"></div>
<div class="t " style="left:1158.40px;top:1021.4px;font-size:16.1px;color:#333;letter-spacing:-0.041px;">Technology</div>
<div class="a" style="left:1282.8px;top:1056.7px;width:248.6px;height:36.0px;background:#e2bf2f;"></div>
<div class="t " style="left:1157.40px;top:1066.8px;font-size:16.1px;color:#333;letter-spacing:-0.291px;">Food &amp; drink</div>
<div class="a" style="left:1282.8px;top:1102.1px;width:154.1px;height:36.0px;background:#e2bf2f;"></div>
<div class="t " style="left:1157.40px;top:1112.2px;font-size:16.1px;color:#333;letter-spacing:0.245px;">Lodging</div>
<div class="a" style="left:1282.8px;top:1147.5px;width:34.5px;height:36.0px;background:#e2bf2f;"></div>
<div class="t " style="left:1158.40px;top:1157.6px;font-size:16.1px;color:#333;letter-spacing:0.075px;">Transportation</div>
</body></html>
